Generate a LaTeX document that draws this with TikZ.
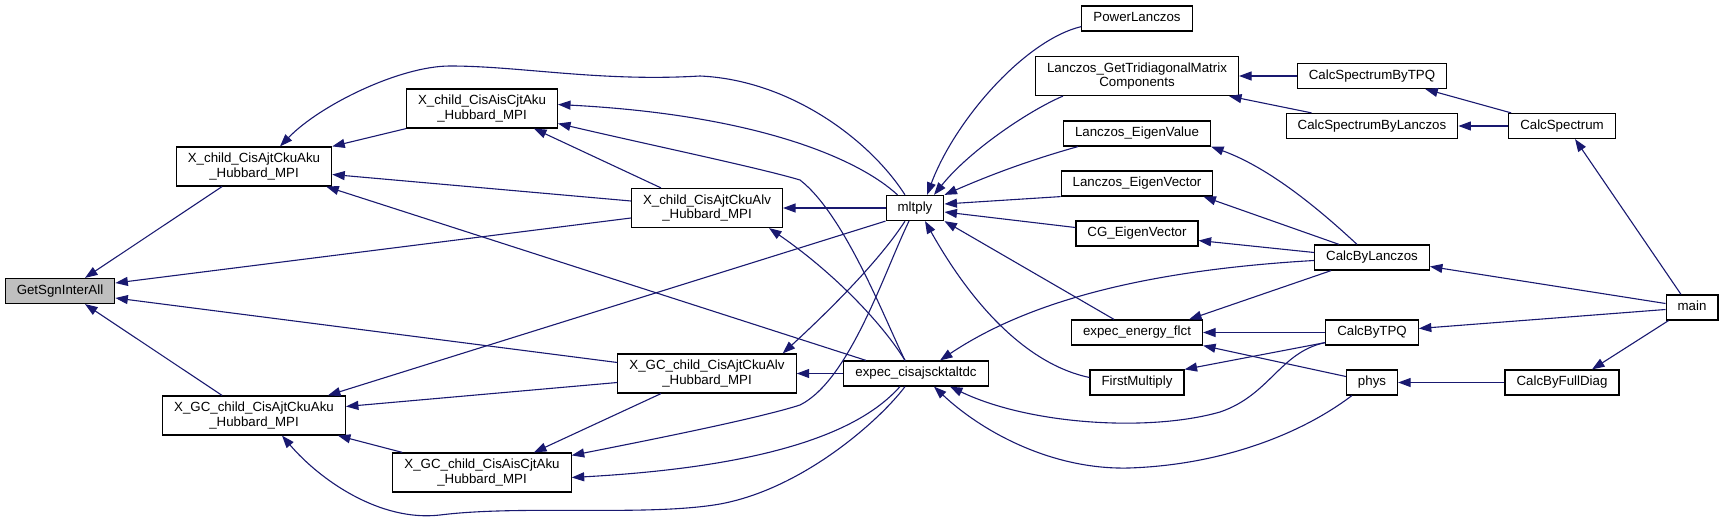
\documentclass[tikz,border=0pt]{standalone}
\usepackage{fontspec}
\setmainfont{Liberation Sans}
\usetikzlibrary{arrows.meta}
\definecolor{edgeblue}{HTML}{191970}
\definecolor{rootgray}{HTML}{BFBFBF}
\begin{document}
\begin{tikzpicture}[x=1pt,y=-1pt]
    \tikzset{box/.style={draw=black, line width=1.2pt, inner xsep=11.5pt, inner ysep=0pt, font=\fontsize{13.3}{14.7}\selectfont}}
    \tikzset{fn/.style={box, minimum height=25pt, text height=9.5pt, text depth=2.8pt}}
    \tikzset{fntwo/.style={box, minimum height=39pt, align=center}}
    \tikzset{calls/.style={-{Triangle[length=12.5pt,width=9pt]}, draw=edgeblue, fill=none, line width=1.1pt}}

    \useasboundingbox (0,0) rectangle (1723,532);

    \node[fn, fill=rootgray] (gsia) at (60,291) {GetSgnInterAll};
    \node[fntwo] (xcaku) at (254,166.5) {X\_child\_CisAjtCkuAku\\\_Hubbard\_MPI};
    \node[fntwo] (xcais) at (482,108.5) {X\_child\_CisAisCjtAku\\\_Hubbard\_MPI};
    \node[fntwo] (xcalv) at (707,208) {X\_child\_CisAjtCkuAlv\\\_Hubbard\_MPI};
    \node[fntwo] (xgaku) at (254,415.5) {X\_GC\_child\_CisAjtCkuAku\\\_Hubbard\_MPI};
    \node[fntwo] (xgais) at (482,472.5) {X\_GC\_child\_CisAisCjtAku\\\_Hubbard\_MPI};
    \node[fntwo] (xgalv) at (707,373.5) {X\_GC\_child\_CisAjtCkuAlv\\\_Hubbard\_MPI};
    \node[fn] (mltply) at (915,208) {mltply};
    \node[fn] (ecalt) at (916,373.5) {expec\_cisajscktaltdc};
    \node[fn] (powl) at (1137,18.5) {PowerLanczos};
    \node[fntwo] (lgtmc) at (1137,76) {Lanczos\_GetTridiagonalMatrix\\Components};
    \node[fn] (lev) at (1137,133.5) {Lanczos\_EigenValue};
    \node[fn] (levc) at (1137,183.5) {Lanczos\_EigenVector};
    \node[fn] (cgev) at (1137,233.5) {CG\_EigenVector};
    \node[fn] (eef) at (1137,332.5) {expec\_energy\_flct};
    \node[fn] (fmul) at (1137,382.5) {FirstMultiply};
    \node[fn] (cstpq) at (1372,76) {CalcSpectrumByTPQ};
    \node[fn] (cslan) at (1372,126) {CalcSpectrumByLanczos};
    \node[fn] (cspec) at (1562,126) {CalcSpectrum};
    \node[fn] (cblan) at (1372,257.5) {CalcByLanczos};
    \node[fn] (cbtpq) at (1372,332.5) {CalcByTPQ};
    \node[fn] (phys) at (1372,382.5) {phys};
    \node[fn] (cbfd) at (1562,382.5) {CalcByFullDiag};
    \node[fn] (main) at (1692,307.5) {main};

    % callers of GetSgnInterAll and the X_ routines
    \draw[calls] ([xshift=-32pt]xcaku.south) -- ([xshift=25pt]gsia.north);
    \draw[calls] ([yshift=-10pt]xcalv.west) -- ([yshift=8pt]gsia.east);
    \draw[calls] ([yshift=11pt]xgalv.west) -- ([yshift=-7pt]gsia.east);
    \draw[calls] ([xshift=-32pt]xgaku.north) -- ([xshift=25pt]gsia.south);
    \draw[calls] ([xshift=-10pt]mltply.north) .. controls (870,140) and (790,80) .. (700,76) .. controls (600,82) and (520,66) .. (450,66) .. controls (400,66) and (320,105) .. ([xshift=26pt]xcaku.north);
    \draw[calls] (xcais.south west) -- (xcaku.north east);
    \draw[calls] ([yshift=7pt]xcalv.west) -- ([yshift=-8pt]xcaku.east);
    \draw[calls] ([xshift=-50pt]ecalt.north) -- ([xshift=-6pt]xcaku.south east);
    \draw[calls] (mltply.south west) -- ([xshift=-18pt]xgaku.north east);
    \draw[calls] ([yshift=-9pt]xgalv.west) -- ([yshift=9pt]xgaku.east);
    \draw[calls] ([xshift=10pt]xgais.north west) -- ([xshift=-8pt]xgaku.south east);
    \draw[calls] ([xshift=-11pt]ecalt.south) .. controls (880,420) and (800,492) .. (714,505) .. controls (640,516) and (520,505) .. (440,515) .. controls (380,522) and (320,480) .. ([xshift=28pt]xgaku.south);
    \draw[calls] ([xshift=12pt]mltply.north west) .. controls (860,160) and (760,115) .. ([yshift=4pt]xcais.east);
    \draw[calls] ([xshift=-11pt]ecalt.north) .. controls (885,320) and (845,215) .. (800,180) .. controls (760,168) and (650,145) .. ([yshift=-15pt]xcais.east);
    \draw[calls] ([xshift=-46pt]xcalv.north) -- ([xshift=52pt]xcais.south);
    \draw[calls] ([xshift=-11pt]ecalt.north) .. controls (880,320) and (830,270) .. ([xshift=-14pt]xcalv.south east);
    \draw[calls] (mltply.west) -- (xcalv.east);
    \draw[calls] ([xshift=-10pt]mltply.south) .. controls (880,260) and (830,310) .. ([xshift=-14pt]xgalv.north east);
    \draw[calls] (ecalt.west) -- (xgalv.east);
    \draw[calls] ([xshift=-46pt]xgalv.south) -- ([xshift=52pt]xgais.north);
    \draw[calls] ([xshift=-6pt]mltply.south) .. controls (885,270) and (850,380) .. (800,405) .. controls (760,418) and (650,440) .. ([yshift=-3pt]xgais.north east);
    \draw[calls] ([xshift=-16pt]ecalt.south) .. controls (870,420) and (800,465) .. ([yshift=-5pt]xgais.east);

    % callers of mltply and expec_cisajscktaltdc
    \draw[calls] ([yshift=5pt]powl.south west) .. controls (1025,40) and (955,120) .. ([xshift=12pt]mltply.north);
    \draw[calls] ([xshift=28pt]lgtmc.south west) .. controls (1030,110) and (970,150) .. ([xshift=19pt]mltply.north);
    \draw[calls] ([xshift=15pt]lev.south west) .. controls (1030,160) and (990,175) .. (mltply.north east);
    \draw[calls] (levc.south west) -- ([yshift=4pt]mltply.east);
    \draw[calls] ([yshift=6pt]cgev.west) -- ([yshift=-4pt]mltply.east);
    \draw[calls] ([xshift=-23pt]eef.north) -- (mltply.south east);
    \draw[calls] ([yshift=5pt]fmul.west) .. controls (1030,365) and (975,310) .. ([xshift=10pt]mltply.south);
    \draw[calls] ([yshift=-3pt]cblan.west) .. controls (1150,270) and (1030,300) .. ([xshift=24pt]ecalt.north);
    \draw[calls] ([yshift=3pt]cbtpq.south west) .. controls (1280,352) and (1270,395) .. (1220,412) .. controls (1150,432) and (1030,425) .. ([xshift=34pt]ecalt.south);
    \draw[calls] ([xshift=6pt]phys.south west) .. controls (1300,435) and (1220,465) .. (1129,468) .. controls (1050,470) and (980,430) .. ([xshift=18pt]ecalt.south);

    % right hand side
    \draw[calls] (cstpq.west) -- (lgtmc.east);
    \draw[calls] ([xshift=26pt]cslan.north west) -- ([xshift=-10pt]lgtmc.south east);
    \draw[calls] ([xshift=-15pt]cblan.north) .. controls (1320,210) and (1270,168) .. (lev.south east);
    \draw[calls] ([xshift=-33pt]cblan.north) -- ([xshift=-10pt]levc.south east);
    \draw[calls] ([yshift=5pt]cblan.west) -- ([yshift=-7pt]cgev.east);
    \draw[calls] ([xshift=17pt]cblan.south west) -- ([xshift=-14pt]eef.north east);
    \draw[calls] (cbtpq.west) -- (eef.east);
    \draw[calls] ([yshift=6pt]phys.west) -- (eef.south east);
    \draw[calls] ([yshift=3pt]cbtpq.south west) -- (fmul.north east);
    \draw[calls] ([xshift=3pt]cspec.north west) -- ([xshift=-22pt]cstpq.south east);
    \draw[calls] (cspec.west) -- (cslan.east);
    \draw[calls] ([xshift=-11pt]main.north) -- ([xshift=13pt]cspec.south);
    \draw[calls] ([yshift=4pt]main.west) -- ([yshift=-9pt]cblan.east);
    \draw[calls] ([yshift=-2pt]main.west) -- ([yshift=4pt]cbtpq.east);
    \draw[calls] ([xshift=3pt]main.south west) -- ([xshift=30pt]cbfd.north);
    \draw[calls] (cbfd.west) -- (phys.east);
\end{tikzpicture}
\end{document}
